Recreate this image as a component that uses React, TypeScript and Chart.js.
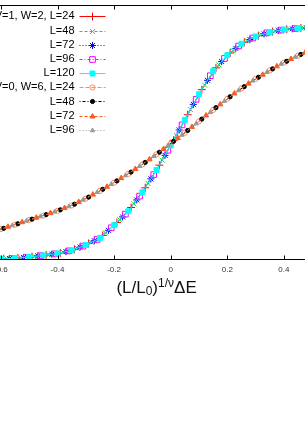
import { useEffect, useRef } from 'react';
import { Chart, registerables } from 'chart.js';
import { drawPoint } from 'chart.js/helpers';

Chart.register(...registerables);

const FONT = "'Liberation Sans', Arial, Helvetica, sans-serif";

const X_MIN = -0.8;
const X_MAX = 0.7;
const X_STEP = 0.2;
const Y_MIN = -0.002;
const Y_MAX = 1.004;

const LABELS = [
  'V=1, W=2, L=24', 'L=48', 'L=72', 'L=96', 'L=120',
  'V=0, W=6, L=24', 'L=48', 'L=72', 'L=96',
];

const X_G0 = [-0.65, -0.60, -0.55, -0.50, -0.45, -0.40, -0.35, -0.30, -0.25, -0.20, -0.15, -0.10, -0.05, 0.00, 0.05, 0.10, 0.15, 0.20, 0.25, 0.30, 0.35, 0.40, 0.45, 0.50];
const X_G1 = [-0.64, -0.59, -0.54, -0.49, -0.44, -0.39, -0.34, -0.29, -0.24, -0.19, -0.14, -0.09, -0.04, 0.01, 0.06, 0.11, 0.16, 0.21, 0.26, 0.31, 0.36, 0.41, 0.46, 0.51];
const X_G2 = [-0.63, -0.58, -0.53, -0.48, -0.43, -0.38, -0.33, -0.28, -0.23, -0.18, -0.13, -0.08, -0.03, 0.02, 0.07, 0.12, 0.17, 0.22, 0.27, 0.32, 0.37, 0.42, 0.47, 0.52];
const X_G3 = [-0.62, -0.57, -0.52, -0.47, -0.42, -0.37, -0.32, -0.27, -0.22, -0.17, -0.12, -0.07, -0.02, 0.03, 0.08, 0.13, 0.18, 0.23, 0.28, 0.33, 0.38, 0.43, 0.48, 0.53];
const X_G4 = [-0.61, -0.56, -0.51, -0.46, -0.41, -0.36, -0.31, -0.26, -0.21, -0.16, -0.11, -0.06, -0.01, 0.04, 0.09, 0.14, 0.19, 0.24, 0.29, 0.34, 0.39, 0.44, 0.49, 0.54];
const X_G5 = [-0.625, -0.575, -0.525, -0.475, -0.425, -0.375, -0.325, -0.275, -0.225, -0.175, -0.125, -0.075, -0.025, 0.025, 0.075, 0.125, 0.175, 0.225, 0.275, 0.325, 0.375, 0.425, 0.475, 0.525];

const Y_A24 = [0.001, 0.003, 0.006, 0.011, 0.018, 0.026, 0.040, 0.063, 0.095, 0.146, 0.205, 0.283, 0.372, 0.470, 0.571, 0.670, 0.756, 0.815, 0.857, 0.883, 0.899, 0.908, 0.913, 0.916];
const Y_A48 = [0.001, 0.003, 0.007, 0.012, 0.019, 0.029, 0.044, 0.068, 0.105, 0.157, 0.220, 0.300, 0.392, 0.490, 0.591, 0.688, 0.768, 0.824, 0.863, 0.887, 0.901, 0.909, 0.914, 0.917];
const Y_A72 = [0.002, 0.004, 0.008, 0.014, 0.021, 0.031, 0.049, 0.074, 0.115, 0.168, 0.235, 0.318, 0.411, 0.511, 0.612, 0.707, 0.781, 0.833, 0.868, 0.890, 0.903, 0.910, 0.914, 0.917];
const Y_A96 = [0.002, 0.004, 0.009, 0.015, 0.022, 0.034, 0.053, 0.079, 0.125, 0.179, 0.250, 0.335, 0.431, 0.531, 0.632, 0.725, 0.793, 0.842, 0.874, 0.894, 0.905, 0.911, 0.915, 0.918];
const Y_A120 = [0.001, 0.002, 0.005, 0.010, 0.016, 0.024, 0.036, 0.057, 0.085, 0.135, 0.190, 0.265, 0.353, 0.450, 0.551, 0.652, 0.743, 0.806, 0.851, 0.880, 0.897, 0.907, 0.912, 0.916];

const Y_B24 = [0.102, 0.120, 0.137, 0.156, 0.173, 0.192, 0.213, 0.240, 0.271, 0.303, 0.338, 0.375, 0.415, 0.457, 0.500, 0.545, 0.590, 0.634, 0.675, 0.712, 0.746, 0.777, 0.804, 0.828];
const Y_B48 = [0.106, 0.123, 0.141, 0.159, 0.177, 0.196, 0.218, 0.246, 0.277, 0.310, 0.345, 0.383, 0.423, 0.466, 0.509, 0.554, 0.599, 0.642, 0.682, 0.719, 0.752, 0.782, 0.809, 0.832];
const Y_B72 = [0.111, 0.129, 0.147, 0.165, 0.183, 0.203, 0.227, 0.256, 0.287, 0.321, 0.357, 0.395, 0.436, 0.479, 0.523, 0.568, 0.612, 0.655, 0.694, 0.729, 0.762, 0.791, 0.816, 0.838];
const Y_B96 = [0.116, 0.134, 0.152, 0.170, 0.188, 0.209, 0.235, 0.265, 0.297, 0.331, 0.368, 0.407, 0.449, 0.491, 0.536, 0.581, 0.625, 0.667, 0.705, 0.739, 0.771, 0.799, 0.823, 0.844];

const SERIES_X = [X_G1, X_G2, X_G3, X_G4, X_G0, X_G0, X_G1, X_G5, X_G4];
const SERIES_Y = [Y_A24, Y_A48, Y_A72, Y_A96, Y_A120, Y_B24, Y_B48, Y_B72, Y_B96];

type Style = { color: string; fill: string; point: string; radius: number; dash: number[] };
const STYLES: Style[] = [
  { color: '#ff0000', fill: '#ff0000', point: 'cross', radius: 4, dash: [] },
  { color: '#00ee00', fill: '#00ee00', point: 'crossRot', radius: 3.5, dash: [3, 2] },
  { color: '#0000ff', fill: '#0000ff', point: 'star', radius: 3.5, dash: [1, 2] },
  { color: '#ff00ff', fill: 'rgba(0,0,0,0)', point: 'rect', radius: 4, dash: [3, 2, 1, 2] },
  { color: '#00ffff', fill: '#00ffff', point: 'rect', radius: 3.5, dash: [] },
  { color: '#ff8a55', fill: 'rgba(0,0,0,0)', point: 'circle', radius: 2.6, dash: [4, 2] },
  { color: '#000000', fill: '#000000', point: 'circle', radius: 2.1, dash: [1, 2, 3, 2] },
  { color: '#ff5a1a', fill: '#ff5a1a', point: 'triangle', radius: 3, dash: [3, 2] },
  { color: '#999999', fill: '#999999', point: 'triangle', radius: 2.5, dash: [1, 2] },
];

const framePlugin = {
  id: 'frame',
  afterDraw(chart: any) {
    const { ctx, chartArea: a } = chart;
    const x = chart.scales.x;
    const top = Math.round(a.top) + 0.5;
    const bot = Math.round(a.bottom) - 0.5;
    ctx.save();
    ctx.strokeStyle = '#000';
    ctx.lineWidth = 1;
    ctx.setLineDash([]);
    ctx.beginPath();
    ctx.rect(Math.round(a.left) + 0.5, top, Math.round(a.right - a.left), bot - top);
    x.ticks.forEach((t: any) => {
      const px = Math.round(x.getPixelForValue(t.value)) + 0.5;
      ctx.moveTo(px, bot);
      ctx.lineTo(px, bot - 4);
      ctx.moveTo(px, top);
      ctx.lineTo(px, top + 4);
    });
    ctx.stroke();
    ctx.restore();
  },
};

const keyPlugin = {
  id: 'key',
  afterDraw(chart: any) {
    const { ctx, chartArea: a } = chart;
    const textRight = a.left + 130.2;
    ctx.save();
    ctx.font = `11px ${FONT}`;
    ctx.textAlign = 'right';
    ctx.textBaseline = 'middle';
    chart.data.datasets.forEach((ds: any, i: number) => {
      const y = a.top + 11.3 + i * 14.2;
      ctx.fillStyle = '#000';
      ctx.fillText(ds.label, textRight, y);
      ctx.strokeStyle = ds.borderColor;
      ctx.lineWidth = 1;
      ctx.setLineDash(ds.borderDash || []);
      ctx.beginPath();
      ctx.moveTo(textRight + 5, Math.round(y) + 0.5);
      ctx.lineTo(textRight + 31, Math.round(y) + 0.5);
      ctx.stroke();
      ctx.setLineDash([]);
      ctx.fillStyle = ds.pointBackgroundColor;
      ctx.strokeStyle = ds.pointBorderColor;
      drawPoint(ctx, { pointStyle: ds.pointStyle, rotation: 0, radius: ds.pointRadius, borderWidth: 1 }, textRight + 18, Math.round(y) + 0.5);
    });
    ctx.restore();
  },
};

const titlePlugin = {
  id: 'xtitle',
  afterDraw(chart: any) {
    const { ctx, chartArea: a } = chart;
    const parts = [
      { t: '(L/L', s: 17, dy: 0 },
      { t: '0', s: 12, dy: 1.8 },
      { t: ')', s: 17, dy: 0 },
      { t: '1/ν', s: 12, dy: -6.6 },
      { t: 'ΔE', s: 17, dy: 0 },
    ];
    ctx.save();
    ctx.fillStyle = '#111';
    ctx.textAlign = 'left';
    ctx.textBaseline = 'alphabetic';
    let total = 0;
    const widths = parts.map((p) => {
      ctx.font = `${p.s}px ${FONT}`;
      const w = ctx.measureText(p.t).width;
      total += w;
      return w;
    });
    let xx = (a.left + a.right) / 2 - total / 2;
    const base = a.bottom + 33.3;
    parts.forEach((p, i) => {
      ctx.font = `${p.s}px ${FONT}`;
      ctx.fillText(p.t, xx, base + p.dy);
      xx += widths[i];
    });
    ctx.restore();
  },
};

export default function App() {
  const ref = useRef<HTMLCanvasElement | null>(null);

  useEffect(() => {
    if (!ref.current) return;
    const datasets = LABELS.map((label, i) => {
      const st = STYLES[i];
      return {
        label,
        data: SERIES_X[i].map((x, j) => ({ x, y: SERIES_Y[i][j] })),
        showLine: true,
        borderColor: st.color,
        backgroundColor: st.fill,
        borderWidth: 1,
        borderDash: st.dash,
        pointStyle: st.point,
        pointRadius: st.radius,
        pointBorderColor: st.color,
        pointBackgroundColor: st.fill,
        pointBorderWidth: 1,
        tension: 0,
        order: -i,
      };
    });
    const chart = new Chart(ref.current, {
      type: 'scatter',
      data: { datasets } as any,
      options: {
        animation: false,
        responsive: false,
        events: [],
        layout: { padding: { left: 24.3, right: 31.2, top: 2, bottom: 145 } },
        plugins: { legend: { display: false }, tooltip: { enabled: false } },
        scales: {
          x: {
            type: 'linear',
            min: X_MIN,
            max: X_MAX,
            ticks: {
              stepSize: X_STEP,
              color: '#333',
              font: { family: FONT, size: 8 },
              padding: 5,
              maxRotation: 0,
              autoSkip: false,
            },
            grid: { display: false, drawTicks: false },
            border: { display: false },
            afterFit: (s: any) => {
              s.height = 30;
            },
          },
          y: { type: 'linear', display: false, min: Y_MIN, max: Y_MAX },
        },
      } as any,
      plugins: [framePlugin, keyPlugin, titlePlugin],
    });
    return () => chart.destroy();
  }, []);

  return (
    <div style={{ position: 'fixed', left: 0, top: 0, width: 305, height: 435, overflow: 'hidden', background: '#fff' }}>
      <canvas
        ref={ref}
        width={480}
        height={435}
        style={{ position: 'absolute', left: -80, top: 0, width: 480, height: 435 }}
      />
    </div>
  );
}
